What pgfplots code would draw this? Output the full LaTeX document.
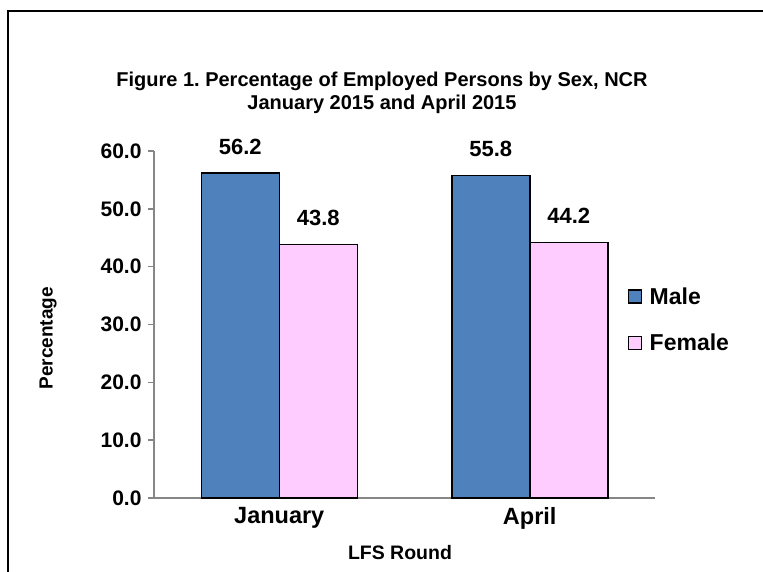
\documentclass[border=0pt]{standalone}
\usepackage{pgfplots}
\pgfplotsset{compat=1.18}
\usepackage{fontspec}
\setmainfont{Liberation Sans}
\frenchspacing
\definecolor{maleblue}{HTML}{4F81BD}
\definecolor{femalepink}{HTML}{FFCCFF}
\definecolor{axgray}{HTML}{868686}
\begin{document}
\begin{tikzpicture}[x=1pt,y=1pt]
\path[use as bounding box] (0pt,0pt) rectangle (763pt,571pt);
\draw[line width=2pt] (8pt,-10pt) -- (8pt,560pt) -- (780pt,560pt);
\node[align=center,font=\fontsize{20}{23}\selectfont\bfseries] at (382pt,478pt)
  {Figure 1. Percentage of Employed Persons by Sex, NCR\\January 2015 and April 2015};
\begin{axis}[
  at={(154pt,73pt)}, anchor=south west,
  scale only axis, width=501pt, height=347pt,
  ybar=0pt, bar width=78pt,
  xmin=-0.5, xmax=1.5, ymin=0, ymax=60,
  axis x line*=bottom, axis y line*=left,
  axis line style={axgray, line width=1.5pt, -},
  tick style={axgray, line width=1.5pt},
  tick align=outside, major tick length=6pt,
  xtick={0,1}, xticklabels={January,April},
  x tick style={draw=none},
  extra x ticks={-0.5,0.5,1.5}, extra x tick labels={},
  extra x tick style={tick style={axgray,line width=1.5pt}, major tick length=8pt},
  ytick={0,10,...,60},
  yticklabel style={font=\fontsize{21}{24}\selectfont\bfseries, text=black, xshift=-3pt,
    /pgf/number format/.cd, fixed, fixed zerofill, precision=1, assume math mode=true},
  xticklabel style={font=\fontsize{23.5}{26}\selectfont\bfseries, text=black, yshift=0pt},
  ylabel={Percentage},
  ylabel style={at={(axis description cs:-0.2116,0.46)}, anchor=center, font=\fontsize{19}{22}\selectfont\bfseries},
  xlabel={LFS Round},
  xlabel style={at={(axis description cs:0.491,-0.158)}, anchor=center, font=\fontsize{19.5}{22}\selectfont\bfseries},
  nodes near coords,
  nodes near coords style={font=\fontsize{22}{26}\selectfont\bfseries, anchor=south, inner sep=0pt, yshift=18pt,
    /pgf/number format/.cd, fixed, fixed zerofill, precision=1, assume math mode=true},
  legend style={draw=none, at={(axis description cs:0.94,0.514)}, anchor=west,
    font=\fontsize{23}{26}\selectfont\bfseries, row sep=28pt, fill=none,
    nodes={inner sep=0pt}},
  legend cell align=left,
  legend image code/.code={\draw[#1, line width=1.2pt] (0pt,-6.5pt) rectangle (13pt,6.5pt);
    \path[draw=none, fill=none] (0pt,0pt) -- (21pt,0pt);},
]
\addplot[fill=maleblue, draw=black, line width=1.5pt] coordinates {(0,56.2) (1,55.8)};
\addplot[fill=femalepink, draw=black, line width=1.5pt] coordinates {(0,43.8) (1,44.2)};
\legend{Male,Female}
\end{axis}
\end{tikzpicture}
\end{document}
